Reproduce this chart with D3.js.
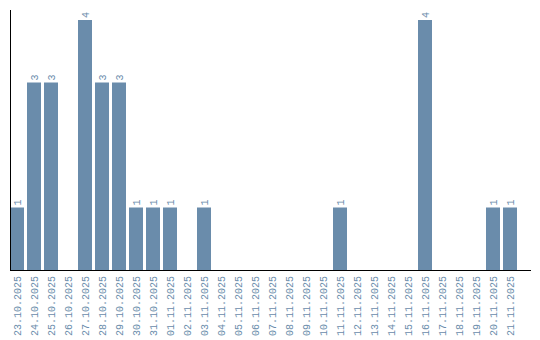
<!DOCTYPE html>
<html><head><meta charset="utf-8">
<script src="https://cdn.jsdelivr.net/npm/d3@7"></script>
<style>body{margin:0;background:#fff}svg{display:block}</style>
</head><body>
<svg id="c" width="540" height="340"></svg>
<script>
const categories = ["23.10.2025","24.10.2025","25.10.2025","26.10.2025","27.10.2025","28.10.2025","29.10.2025","30.10.2025","31.10.2025","01.11.2025","02.11.2025","03.11.2025","04.11.2025","05.11.2025","06.11.2025","07.11.2025","08.11.2025","09.11.2025","10.11.2025","11.11.2025","12.11.2025","13.11.2025","14.11.2025","15.11.2025","16.11.2025","17.11.2025","18.11.2025","19.11.2025","20.11.2025","21.11.2025"];
const values = [1,3,3,0,4,3,3,1,1,1,0,1,0,0,0,0,0,0,0,1,0,0,0,0,4,0,0,0,1,1];

const svg = d3.select("#c");
const color = "#6a8cab";
const font = "'Liberation Mono', monospace";
const x = d3.scaleBand().domain(categories).range([10, 517]).paddingInner(3/17).paddingOuter(0);
const y = d3.scaleLinear().domain([0, 4]).range([270, 20]);

svg.selectAll("rect.bar").data(categories).enter().append("rect")
  .attr("x", d => x(d)).attr("width", x.bandwidth())
  .attr("y", (d,i) => y(values[i])).attr("height", (d,i) => y(0) - y(values[i]))
  .attr("fill", color);

svg.selectAll("text.val").data(categories.filter((d,i)=>values[i]>0)).enter().append("text")
  .attr("transform", d => `translate(${x(d)+x.bandwidth()/2+3.5},${y(values[categories.indexOf(d)])-2}) rotate(-90)`)
  .attr("text-anchor","start").attr("font-family",font).attr("font-size",10).attr("fill",color)
  .text(d => values[categories.indexOf(d)]);

svg.selectAll("text.lab").data(categories).enter().append("text")
  .attr("transform", d => `translate(${x(d)+x.bandwidth()/2+3.5},276) rotate(-90)`)
  .attr("text-anchor","end").attr("font-family",font).attr("font-size",10).attr("fill",color)
  .text(d => d);

svg.append("line").attr("x1",10).attr("x2",531).attr("y1",270.5).attr("y2",270.5).attr("stroke","#000");
svg.append("line").attr("x1",10.5).attr("x2",10.5).attr("y1",10).attr("y2",271).attr("stroke","#000");
</script>
</body></html>
